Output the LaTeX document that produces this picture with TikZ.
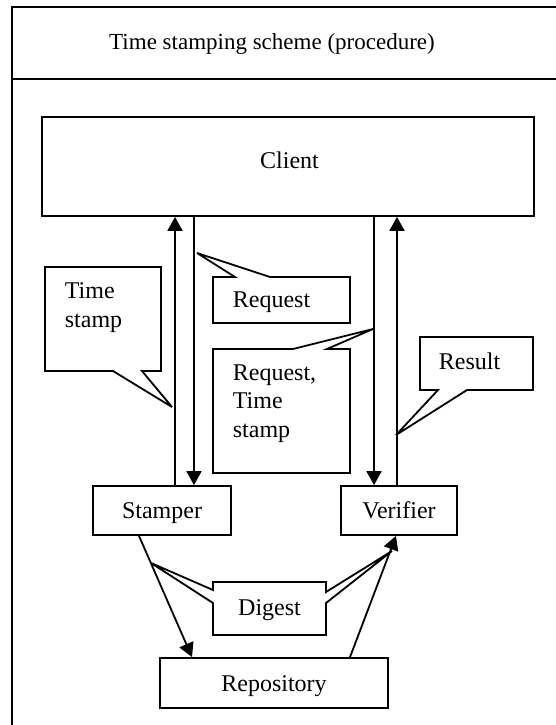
\documentclass[tikz,border=0pt]{standalone}
\usepackage{fontspec}
\setmainfont{Liberation Serif}
\usetikzlibrary{arrows.meta}
\begin{document}
\begin{tikzpicture}[x=1pt, y=-1pt, line width=1.8pt, miter limit=5,
  lbl/.style={font=\fontsize{24}{28.5}\selectfont, inner sep=0pt},
  box/.style={draw, rectangle, lbl, text height=16pt, text depth=0pt},
  arr/.style={-{Triangle[length=14pt, width=15pt]}},
  callout/.style={draw}]
  \useasboundingbox (0,0) rectangle (556,725);
  \fill[white] (0,0) rectangle (556,725);
  \clip (0,0) rectangle (556,725);

  % outer frame and header row
  \draw (12,745) -- (12,7) -- (570,7);
  \draw (12,79) -- (570,79);
  \node[lbl, font=\fontsize{23}{27}\selectfont, anchor=base] (title) at (272,50)
    {Time stamping scheme (procedure)};

  % parties
  \node[box, minimum width=492pt, minimum height=99pt] (client) at (288,166.5) {};
  \node[lbl, anchor=base] (clientlbl) at (289.5,168) {Client};
  \node[box, minimum width=138pt, minimum height=49pt] (stamper) at (162,510.5) {Stamper};
  \node[box, minimum width=116pt, minimum height=49pt] (verifier) at (399,510.5) {Verifier};
  \node[box, minimum width=228pt, minimum height=50pt] (repository) at (274,683) {Repository};

  % message flows between client, stamper and verifier
  \coordinate (sup) at ([xshift=13pt]stamper.north);
  \coordinate (sdn) at ([xshift=32pt]stamper.north);
  \coordinate (vdn) at ([xshift=-25pt]verifier.north);
  \coordinate (vup) at ([xshift=-2pt]verifier.north);
  \draw[arr] (sup) -- (sup |- client.south);
  \draw[arr] (sdn |- client.south) -- (sdn);
  \draw[arr] (vdn |- client.south) -- (vdn);
  \draw[arr] (vup) -- (vup |- client.south);

  % digest storage and lookup
  \draw[arr] ([xshift=-23pt]stamper.south) -- ([xshift=-82pt]repository.north);
  \draw[arr] ([xshift=76pt]repository.north) -- ([xshift=-3pt]verifier.south);

  % callouts (multi-line labels are placed by the baseline of their last line)
  \draw[callout] (45,267) -- (161,267) -- (161,371) -- (142,371) -- (172,407)
    -- (113,371) -- (45,371) -- cycle;
  \node[lbl, anchor=base west, align=left] (tsnote) at (64,327) {Time\\stamp};

  \draw[callout] (213,277) -- (235,277) -- (197,253) -- (270,277) -- (350,277)
    -- (350,323) -- (213,323) -- cycle;
  \node[lbl, anchor=base west] (reqnote) at (232,307) {Request};

  \draw[callout] (213,349) -- (293,349) -- (373,329) -- (327,349) -- (350,349)
    -- (350,473) -- (213,473) -- cycle;
  \node[lbl, anchor=base west, align=left] (reqtsnote) at (232,437)
    {Request,\\Time\\stamp};

  \draw[callout] (420,337) -- (533,337) -- (533,390) -- (467,390) -- (396,435)
    -- (438,390) -- (420,390) -- cycle;
  \node[lbl, anchor=base west] (resnote) at (438,369) {Result};

  \draw[callout] (213,582) -- (326,582) -- (326,592) -- (392,551) -- (326,603)
    -- (326,635) -- (213,635) -- (213,603) -- (151,563) -- (213,590) -- cycle;
  \node[lbl, text height=16pt, text depth=0pt] (digest) at (269.5,607) {Digest};
\end{tikzpicture}
\end{document}
